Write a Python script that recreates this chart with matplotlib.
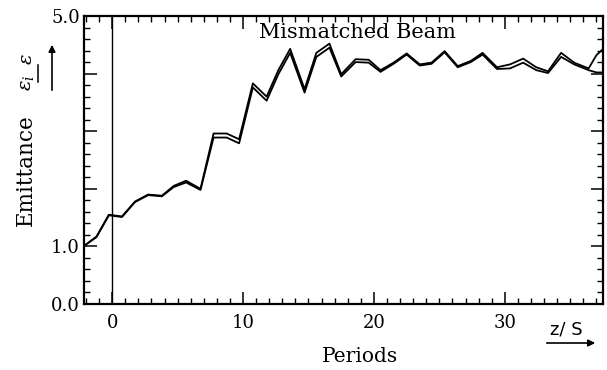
import matplotlib
matplotlib.use("Agg")
import matplotlib.pyplot as plt
from matplotlib.lines import Line2D
from matplotlib.patches import FancyArrowPatch
from matplotlib.ticker import MultipleLocator

# emittance growth of a mismatched beam
periods = [-2.2, -1.2, -0.25, 0.75, 1.75, 2.75, 3.8, 4.7, 5.65, 6.75,
           7.75, 8.75, 9.7, 10.75, 11.8, 12.7, 13.6, 14.7, 15.6, 16.6,
           17.5, 18.6, 19.6, 20.5, 21.5, 22.5, 23.5, 24.4, 25.4, 26.4,
           27.4, 28.3, 29.4, 30.4, 31.4, 32.4, 33.3, 34.3, 35.3, 36.4,
           37.0, 37.6]
emit_a = [1.0, 1.17, 1.55, 1.52, 1.78, 1.9, 1.88, 2.05, 2.14, 2.0,
          2.96, 2.96, 2.86, 3.83, 3.6, 4.06, 4.43, 3.73, 4.36, 4.52,
          3.99, 4.25, 4.24, 4.06, 4.19, 4.35, 4.16, 4.19, 4.39, 4.13,
          4.22, 4.36, 4.11, 4.16, 4.26, 4.11, 4.04, 4.36, 4.19, 4.09,
          4.32, 4.45]
emit_b = [1.0, 1.16, 1.54, 1.51, 1.77, 1.89, 1.87, 2.03, 2.11, 1.98,
          2.89, 2.89, 2.79, 3.76, 3.53, 3.99, 4.36, 3.67, 4.29, 4.45,
          3.95, 4.2, 4.19, 4.03, 4.17, 4.33, 4.14, 4.17, 4.37, 4.11,
          4.2, 4.33, 4.08, 4.09, 4.19, 4.06, 4.01, 4.29, 4.16, 4.06,
          4.02, 4.02]

W, H = 607, 370


def fx(px):
    return px / W


def fy(py):
    return 1 - py / H


plt.rcParams['font.family'] = 'DejaVu Serif'
plt.rcParams['mathtext.fontset'] = 'dejavuserif'

fig = plt.figure(figsize=(6.07, 3.70), dpi=100)
ax = fig.add_axes([fx(84), fy(304), fx(603) - fx(84), fy(16) - fy(304)])

ax.plot(periods, emit_a, color='black', lw=1.3)
ax.plot(periods, emit_b, color='black', lw=1.3)
ax.axvline(0, color='black', lw=1.0)

ax.set_xlim(-2.15, 37.5)
ax.set_ylim(0, 5)

ax.set_xticks([0, 10, 20, 30])
ax.xaxis.set_minor_locator(MultipleLocator(1))
ax.set_yticks([0, 1, 2, 3, 4, 5])
ax.set_yticklabels(['0.0', '1.0', '', '', '', '5.0'])
ax.yaxis.set_minor_locator(MultipleLocator(0.2))

ax.tick_params(which='both', direction='in', top=True, right=True,
               labelsize=13, colors='black')
ax.tick_params(which='major', length=9, width=1.1)
ax.tick_params(which='minor', length=4.5, width=1.0)
ax.tick_params(axis='x', pad=7)
ax.tick_params(axis='y', pad=3)
for s in ax.spines.values():
    s.set_linewidth(1.6)

ax.text(fx(357), fy(33), 'Mismatched Beam', transform=fig.transFigure,
        ha='center', va='center', fontsize=15)

fig.text(fx(360), fy(357), 'Periods', ha='center', va='center', fontsize=14.5)
fig.text(fx(26), fy(170), 'Emittance', ha='center', va='center',
         rotation=90, fontsize=15.5)

# rotated epsilon / epsilon_i marker with its bar and arrow
fig.text(fx(27), fy(59), r'$\varepsilon$', ha='center', va='center',
         rotation=90, fontsize=14)
fig.text(fx(27), fy(83), r'$\varepsilon_i$', ha='center', va='center',
         rotation=90, fontsize=14)
fig.add_artist(Line2D([fx(38), fx(38)], [fy(65), fy(82)],
                      transform=fig.transFigure, color='black', lw=1.1))

fig.text(fx(566), fy(329), 'z/ S', ha='center', va='center', fontsize=13,
         family='DejaVu Sans')

# arrows drawn in figure coordinates
fig.add_artist(FancyArrowPatch(
    (fx(544), fy(343)), (fx(598), fy(343)), transform=fig.transFigure,
    arrowstyle='-|>', mutation_scale=10, color='black', lw=1.2))
fig.add_artist(FancyArrowPatch(
    (fx(52), fy(93)), (fx(52), fy(42)), transform=fig.transFigure,
    arrowstyle='-|>', mutation_scale=10, color='black', lw=1.2))

fig.savefig('out.png', dpi=100)
